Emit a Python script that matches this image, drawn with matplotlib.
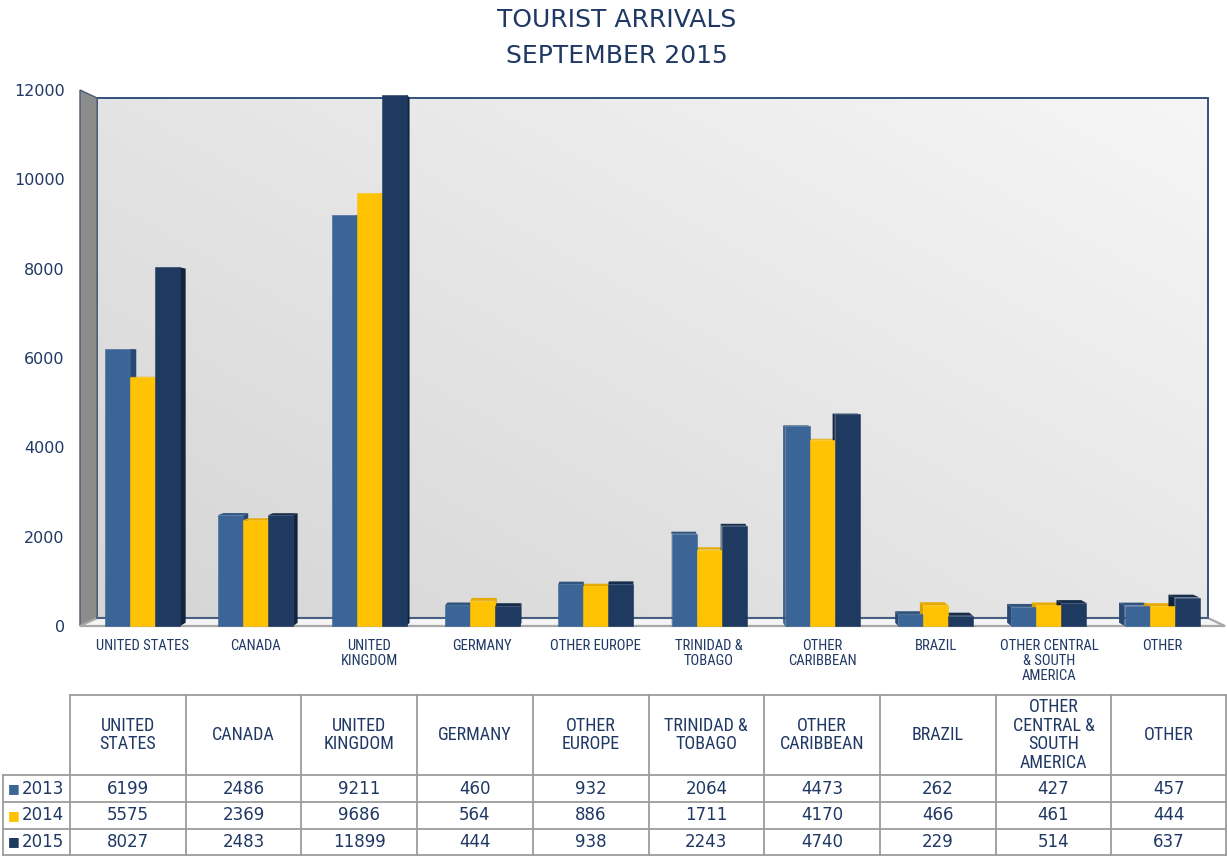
import matplotlib
matplotlib.use('Agg')
import matplotlib.pyplot as plt
import numpy as np
from matplotlib.patches import Polygon
from matplotlib.lines import Line2D
from matplotlib import font_manager as fm

# ---------------- data ----------------
categories = ["UNITED STATES", "CANADA", "UNITED\nKINGDOM", "GERMANY", "OTHER EUROPE",
              "TRINIDAD &\nTOBAGO", "OTHER\nCARIBBEAN", "BRAZIL",
              "OTHER CENTRAL\n& SOUTH\nAMERICA", "OTHER"]
table_headers = ["UNITED\nSTATES", "CANADA", "UNITED\nKINGDOM", "GERMANY", "OTHER\nEUROPE",
                 "TRINIDAD &\nTOBAGO", "OTHER\nCARIBBEAN", "BRAZIL",
                 "OTHER\nCENTRAL &\nSOUTH\nAMERICA", "OTHER"]
years = ["2013", "2014", "2015"]
arrivals_2013 = [6199, 2486, 9211, 460, 932, 2064, 4473, 262, 427, 457]
arrivals_2014 = [5575, 2369, 9686, 564, 886, 1711, 4170, 466, 461, 444]
arrivals_2015 = [8027, 2483, 11899, 444, 938, 2243, 4740, 229, 514, 637]
y_ticks = [0, 2000, 4000, 6000, 8000, 10000, 12000]
title_lines = ["TOURIST ARRIVALS", "SEPTEMBER 2015"]

series = [arrivals_2013, arrivals_2014, arrivals_2015]
front_colors = ["#3c6597", "#ffc303", "#1f3a60"]
side_colors = ["#284870", "#d9a000", "#12243d"]
top_colors = ["#2f5480", "#e6ab00", "#172d4c"]
navy = "#1f3864"


# find a narrow / condensed font file if one is installed
def find_narrow():
    files = [f.fname for f in fm.fontManager.ttflist]
    prefs = ["LiberationSansNarrow-Regular", "RobotoCondensed-Regular", "Roboto_Condensed-Regular",
             "OpenSans_Condensed-Regular", "OpenSansCondensed", "DejaVuSansCondensed.ttf"]
    for p in prefs:
        for f in files:
            if p in f:
                return f
    for f in files:
        base = f.split('/')[-1]
        if ('Condensed' in base or 'Narrow' in base) and 'Bold' not in base and 'Italic' not in base \
                and 'Oblique' not in base and 'Light' not in base and 'Mono' not in base and 'Serif' not in base:
            return f
    return None


nf = find_narrow()


def narrow_fp(size):
    if nf:
        return fm.FontProperties(fname=nf, size=size)
    return fm.FontProperties(family='DejaVu Sans', stretch='condensed', size=size)


W, H = 1227, 856
fig = plt.figure(figsize=(W / 100, H / 100), dpi=100)


def fx(px):
    return px / W


def fy(py):
    return 1 - py / H


# ---------------- chart axes ----------------
ax = fig.add_axes([fx(80), fy(626), (1225 - 80) / W, (626 - 90) / H])
x0, x1 = -0.5516, 9.554
y0, y1 = 0, 12000
vx, vy = (x0 + x1) / 2, (y0 + y1) / 2


def back(x, y, k):
    return (x + k * (vx - x), y + k * (vy - y))


kw = 0.03
FL, FR, TL, TR = (x0, y0), (x1, y0), (x0, y1), (x1, y1)
bl, br, tl, tr = back(*FL, kw), back(*FR, kw), back(*TL, kw), back(*TR, kw)

# back wall gradient
u = np.linspace(0, 1, 200)
v = np.linspace(0, 1, 200)
U, V = np.meshgrid(u, v)
g = 0.55 * U + 0.45 * V
c0 = np.array([0.835, 0.835, 0.835])
c1 = np.array([0.965, 0.965, 0.965])
img = c0[None, None, :] * (1 - g[..., None]) + c1[None, None, :] * g[..., None]
ax.imshow(img, extent=[bl[0], br[0], bl[1], tl[1]], origin='lower', aspect='auto', zorder=0)
ax.add_patch(Polygon([bl, br, tr, tl], closed=True, fill=False, edgecolor="#34507e", lw=1.4, zorder=1))

# left wall
ax.add_patch(Polygon([FL, TL, tl, bl], closed=True, facecolor="#8c8c8c", edgecolor="#4a5a72",
                     lw=1.0, zorder=1, clip_on=False))
# floor
ax.add_patch(Polygon([FL, FR, br, bl], closed=True, facecolor="#f4f4f4", edgecolor="#a8a8a8",
                     lw=1.6, zorder=1, clip_on=False))
ax.add_line(Line2D([bl[0], br[0]], [bl[1], br[1]], color="#34507e", lw=1.2, zorder=2))

# bars
w = 0.2206
offsets = [-w, 0, w]
kb = 0.012
xs = np.arange(len(categories))
for j, vals in enumerate(series):
    for i, h in enumerate(vals):
        xl = xs[i] + offsets[j] - w / 2
        xr = xl + w
        if xr < vx:
            pts = [(xr, 0), (xr, h), back(xr, h, kb), back(xr, 0, kb)]
            ax.add_patch(Polygon(pts, closed=True, facecolor=side_colors[j], lw=0, zorder=3))
        elif xl > vx:
            pts = [(xl, 0), (xl, h), back(xl, h, kb), back(xl, 0, kb)]
            ax.add_patch(Polygon(pts, closed=True, facecolor=side_colors[j], lw=0, zorder=3))
        if h < vy:
            pts = [(xl, h), (xr, h), back(xr, h, kb), back(xl, h, kb)]
            ax.add_patch(Polygon(pts, closed=True, facecolor=top_colors[j], lw=0, zorder=3))
    ax.bar(xs + offsets[j], vals, width=w, color=front_colors[j], edgecolor=front_colors[j],
           lw=0.4, zorder=5, clip_on=False)

ax.set_xlim(x0, x1)
ax.set_ylim(y0, y1)
ax.set_facecolor('none')
for s in ax.spines.values():
    s.set_visible(False)
ax.set_yticks(y_ticks)
ax.set_yticklabels([str(t) for t in y_ticks], fontsize=11.5, color=navy, family='DejaVu Sans')
ax.set_xticks(xs)
ax.set_xticklabels(categories, fontproperties=narrow_fp(10.5), color=navy, linespacing=1.1,
                   va='top')
ax.tick_params(axis='y', length=0, pad=11)
ax.tick_params(axis='x', length=0, pad=9)

# title
fig.text(fx(617), fy(20), title_lines[0], ha='center', va='center', fontsize=18, color=navy,
         family='DejaVu Sans')
fig.text(fx(617), fy(56), title_lines[1], ha='center', va='center', fontsize=18, color=navy,
         family='DejaVu Sans')

# ---------------- data table ----------------
grid_col = "#9c9c9c"
col_edges = [70 + 115.7 * k for k in range(len(categories) + 1)]
col_edges[-1] = 1226
row_edges = [695, 775, 802, 829, 855]
lab_left = 3


def hline(px0, px1, py):
    fig.add_artist(Line2D([fx(px0), fx(px1)], [fy(py), fy(py)], color=grid_col, lw=1.3))


def vline(px, py0, py1):
    fig.add_artist(Line2D([fx(px), fx(px)], [fy(py0), fy(py1)], color=grid_col, lw=1.3))


hline(col_edges[0], col_edges[-1], row_edges[0])
for r in row_edges[1:]:
    hline(lab_left, col_edges[-1], r)
for c in col_edges:
    vline(c, row_edges[0], row_edges[-1])
vline(lab_left, row_edges[1], row_edges[-1])

for i, hdr in enumerate(table_headers):
    cx = (col_edges[i] + col_edges[i + 1]) / 2
    fig.text(fx(cx), fy((row_edges[0] + row_edges[1]) / 2), hdr, ha='center', va='center',
             fontproperties=narrow_fp(13), color=navy, linespacing=1.05)

for j, vals in enumerate(series):
    cy = (row_edges[j + 1] + row_edges[j + 2]) / 2
    fig.text(fx(14), fy(cy), "\u25A0", ha='center', va='center', fontsize=9,
             color=front_colors[j], family='DejaVu Sans')
    fig.text(fx(22), fy(cy), years[j], ha='left', va='center', fontsize=12, color=navy,
             family='DejaVu Sans')
    for i, val in enumerate(vals):
        cx = (col_edges[i] + col_edges[i + 1]) / 2
        fig.text(fx(cx), fy(cy), str(val), ha='center', va='center', fontsize=12,
                 color=navy, family='DejaVu Sans')

fig.savefig("out.png", dpi=100, facecolor='white')
